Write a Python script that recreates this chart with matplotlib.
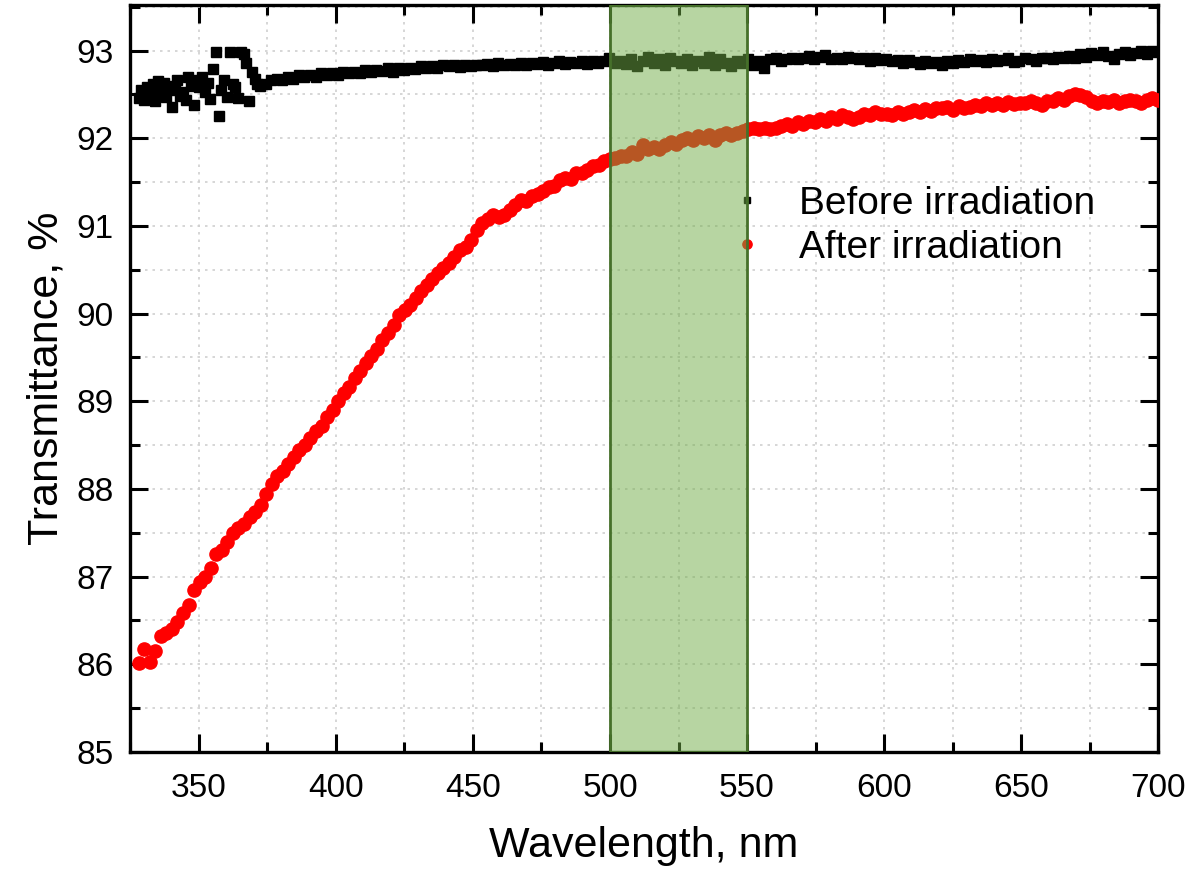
import numpy as np
import matplotlib
matplotlib.use("Agg")
import matplotlib.pyplot as plt
from matplotlib.ticker import MultipleLocator

plt.rcParams['font.family'] = ['Liberation Sans', 'DejaVu Sans']

# ---------------- data ----------------
# "After irradiation": evenly spaced samples from 328 to 700 nm
after_range = (328.0, 700.0)
after_T = [
    86.02, 86.18, 86.03, 86.15, 86.32, 86.36, 86.40, 86.48, 86.58, 86.68,
    86.85, 86.94, 87.00, 87.10, 87.26, 87.30, 87.40, 87.50, 87.56, 87.60,
    87.68, 87.74, 87.82, 87.94, 88.06, 88.15, 88.20, 88.28, 88.36, 88.44,
    88.50, 88.58, 88.66, 88.72, 88.82, 88.90, 89.00, 89.10, 89.16, 89.26,
    89.35, 89.44, 89.52, 89.60, 89.70, 89.78, 89.87, 89.98, 90.04, 90.10,
    90.18, 90.26, 90.33, 90.40, 90.46, 90.52, 90.58, 90.65, 90.72, 90.76,
    90.84, 90.95, 91.03, 91.08, 91.12, 91.10, 91.12, 91.18, 91.24, 91.30,
    91.28, 91.34, 91.36, 91.40, 91.44, 91.46, 91.52, 91.55, 91.54, 91.60,
    91.60, 91.64, 91.68, 91.70, 91.74, 91.76, 91.78, 91.80, 91.80, 91.84,
    91.82, 91.92, 91.88, 91.90, 91.88, 91.92, 91.96, 91.94, 91.98, 92.00,
    91.98, 92.02, 92.00, 92.04, 91.98, 92.04, 92.06, 92.04, 92.06, 92.08,
    92.10, 92.12, 92.10, 92.12, 92.10, 92.12, 92.14, 92.16, 92.14, 92.18,
    92.16, 92.20, 92.18, 92.22, 92.20, 92.24, 92.22, 92.26, 92.24, 92.22,
    92.24, 92.28, 92.26, 92.30, 92.28, 92.28, 92.26, 92.30, 92.28, 92.30,
    92.32, 92.30, 92.33, 92.31, 92.35, 92.34, 92.36, 92.32, 92.37, 92.35,
    92.36, 92.38, 92.37, 92.40, 92.38, 92.40, 92.38, 92.41, 92.39, 92.40,
    92.40, 92.42, 92.40, 92.38, 92.43, 92.42, 92.46, 92.44, 92.48, 92.50,
    92.49, 92.47, 92.42, 92.40, 92.42, 92.41, 92.44, 92.40, 92.43, 92.44,
    92.42, 92.40, 92.44, 92.46, 92.44,
]

# "Before irradiation": dense noisy part (328-371 nm), then the rest (372-700 nm)
before_noisy_range = (328.0, 371.3)
before_noisy_T = [
    92.46, 92.55, 92.44, 92.58, 92.50, 92.62, 92.42, 92.65, 92.52, 92.63,
    92.47, 92.60, 92.36, 92.55, 92.67, 92.48, 92.53, 92.44, 92.70, 92.60,
    92.38, 92.67, 92.58, 92.70, 92.53, 92.63, 92.45, 92.79, 92.98, 92.25,
    92.55, 92.67, 92.47, 92.98, 92.62, 92.58, 92.46, 92.98, 92.96, 92.86,
    92.42, 92.76, 92.68, 92.62,
]
before_range = (372.3, 700.0)
before_T = [
    92.60, 92.62, 92.66, 92.68, 92.66, 92.70, 92.68, 92.72, 92.70, 92.72,
    92.70, 92.74, 92.72, 92.74, 92.72, 92.76, 92.74, 92.76, 92.74, 92.78,
    92.76, 92.78, 92.77, 92.80, 92.76, 92.80, 92.78, 92.80, 92.79, 92.82,
    92.80, 92.82, 92.80, 92.84, 92.82, 92.83, 92.81, 92.84, 92.82, 92.84,
    92.83, 92.85, 92.82, 92.86, 92.84, 92.85, 92.83, 92.86, 92.84, 92.86,
    92.85, 92.87, 92.84, 92.86, 92.88, 92.85, 92.87, 92.86, 92.88, 92.85,
    92.88, 92.86, 92.88, 92.92, 92.86, 92.88, 92.85, 92.90, 92.82, 92.88,
    92.93, 92.86, 92.90, 92.84, 92.92, 92.88, 92.86, 92.90, 92.83, 92.88,
    92.86, 92.93, 92.84, 92.90, 92.86, 92.82, 92.88, 92.86, 92.90, 92.84,
    92.88, 92.80, 92.90, 92.92, 92.88, 92.90, 92.92, 92.90, 92.91, 92.94,
    92.90, 92.93, 92.95, 92.90, 92.92, 92.90, 92.93, 92.91, 92.90, 92.92,
    92.88, 92.91, 92.89, 92.90, 92.88, 92.89, 92.86, 92.89, 92.87, 92.85,
    92.88, 92.86, 92.87, 92.84, 92.88, 92.86, 92.89, 92.87, 92.90, 92.88,
    92.89, 92.87, 92.90, 92.88, 92.89, 92.91, 92.87, 92.88, 92.92, 92.90,
    92.88, 92.91, 92.92, 92.90, 92.93, 92.91, 92.94, 92.92, 92.96, 92.93,
    92.97, 92.95, 92.98, 92.94, 92.90, 92.96, 92.98, 92.95, 92.97, 92.99,
    92.96, 93.00, 92.98,
]

highlight_range = (500, 550)
labels = ["Before irradiation", "After irradiation"]
x_label = "Wavelength, nm"
y_label = "Transmittance, %"

after_wl = np.linspace(*after_range, len(after_T))
before_wl = np.concatenate([
    np.linspace(*before_noisy_range, len(before_noisy_T)),
    np.linspace(*before_range, len(before_T)),
])
before_all = np.concatenate([before_noisy_T, before_T])

# ---------------- figure ----------------
fig = plt.figure(figsize=(12.01, 8.74), dpi=100)
ax = fig.add_axes([0.1082, 0.1396, 0.8560, 0.8547])

ax.plot(before_wl, before_all, linestyle='none', marker='s', color='black',
        markersize=7, label=labels[0], zorder=3)
ax.plot(after_wl, after_T, linestyle='none', marker='o', color='#ff0000',
        markersize=9.5, label=labels[1], zorder=3)

ax.axvspan(*highlight_range, facecolor='#70ad47', alpha=0.5, edgecolor='none', zorder=5)
ax.axvspan(*highlight_range, facecolor='none', edgecolor='#46702a', linewidth=2.0, zorder=6)

ax.set_xlim(324.8, 700)
ax.set_ylim(85, 93.52)
ax.xaxis.set_major_locator(MultipleLocator(50))
ax.xaxis.set_minor_locator(MultipleLocator(25))
ax.yaxis.set_major_locator(MultipleLocator(1))
ax.yaxis.set_minor_locator(MultipleLocator(0.5))

ax.grid(True, which='both', color='#cfcfcf', linestyle=(0, (1.5, 3)), linewidth=1.2, zorder=0)
ax.set_axisbelow(True)

ax.tick_params(which='both', direction='in', top=True, right=True, width=2.2,
               labelsize=24, colors='black')
ax.tick_params(which='major', length=13)
ax.tick_params(which='minor', length=7)
ax.tick_params(axis='x', which='major', pad=15)
ax.tick_params(axis='y', which='major', pad=12)
for s in ax.spines.values():
    s.set_linewidth(2.4)

ax.set_xlabel(x_label, fontsize=31, labelpad=16)
ax.set_ylabel(y_label, fontsize=31, labelpad=7)

leg = ax.legend(loc='upper left', bbox_to_anchor=(0.5625, 0.758), frameon=False,
                fontsize=28, handlelength=2.0, handletextpad=0.34, borderpad=0,
                borderaxespad=0, labelspacing=0.21, markerscale=0.7)
leg.set_zorder(4)

fig.savefig("out.png", dpi=100)
